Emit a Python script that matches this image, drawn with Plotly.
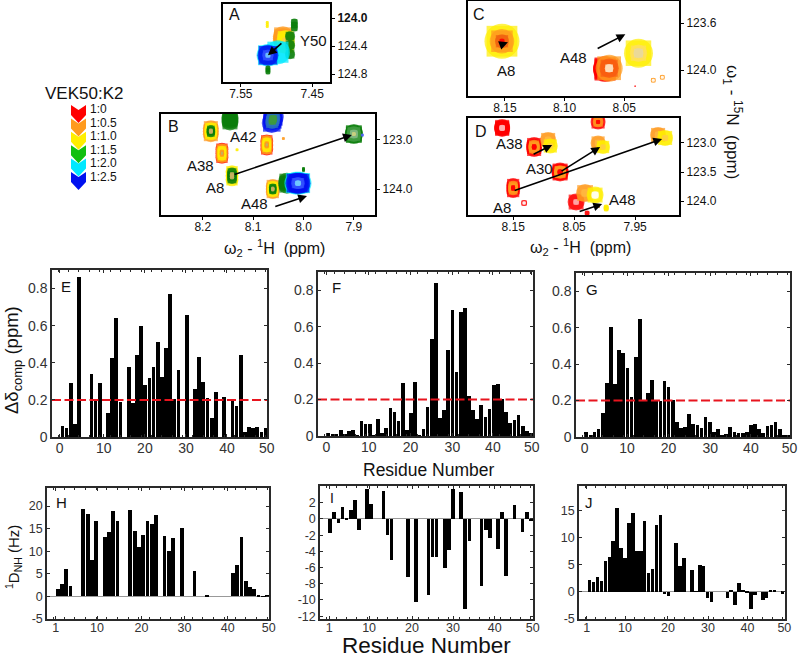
import plotly.graph_objects as go

# ---------- data ----------
residues = list(range(1, 51))
E_shift = [.06,.05,.29,.07,.86,0,0,.34,.205,.29,0,.13,.425,.64,.19,0,.375,.185,.44,.60,.28,.32,.375,.51,.325,.48,.77,.205,.36,0,.66,0,.26,.43,.295,.21,.10,.245,0,.215,0,.20,.165,.44,.025,.055,.05,.055,.025,.05]
F_shift = [.015,.012,.012,.035,.01,.025,.032,.002,.08,.065,.065,.003,.095,.015,.045,.155,.13,.08,.29,.035,.125,.295,.003,.04,.16,.535,.84,.10,.14,.47,.69,.35,.68,.70,.22,.14,.095,.17,.105,.15,.28,.285,.205,.13,.07,.09,.115,.055,.025,.015]
G_shift = [.03,.01,.03,.045,.13,.295,.605,.29,.48,.46,.38,.22,.44,.645,.195,.24,.315,.205,.20,.31,.275,.205,.085,.05,.055,.125,.07,.065,.05,.11,.08,.03,.045,.012,.018,.055,.025,.02,.02,.03,.065,.07,.045,.02,.06,.065,.08,.045,.01,.012]
H_rdc = [1.6,2.7,6.1,2.2,0,0,19.4,18.3,8,16.8,0,13.2,14.3,19,16.6,0,0,19.2,14.4,10.9,13.5,16.6,16,18,0,13.4,10.1,12.9,0,15.2,0,0,5.6,0,0,.4,0,0,0,0,0,5.1,7,13.2,3.5,2.1,1.7,.1,-.1,.1]
I_rdc = [-1.7,.8,-.5,1.5,-.1,1.1,2.4,-1.4,0,3.7,1.8,0,0,3.4,-2,-5.1,0,0,0,-7.2,0,-10.2,0,0,-9.4,-4.7,-4.7,0,-6,-3.8,3.7,0,3.3,-11.1,-2.7,0,0,-8.3,-1.3,-2.3,0,-3.7,.8,-7,0,1.7,0,-1.6,.8,-.3]
J_rdc = [2.2,1.8,2.7,2,5.8,6.5,9.4,15.5,8.1,6.3,12.7,14.6,7.5,7.6,13.2,3.5,4.2,12.3,14.2,-.4,-.8,0,9,4.8,6.3,0,4.1,.1,5,4.8,-1.1,-1.9,0,0,0,-1.2,.2,-2.5,1.6,.3,-.2,-3.1,-.5,0,-1.5,-1.2,.4,.4,0,-.3]
threshold = 0.2

ratio_labels = ["1:0","1:0.5","1:1.0","1:1.5","1:2.0","1:2.5"]

# peak positions (1H ppm, 15N ppm)
A_H = [7.491,7.487,7.481,7.498,7.512,7.475,7.513,7.512]
A_N = [124.286,124.34,124.386,124.486,124.529,124.10,124.09,124.74]
B_H = [8.184,8.146,8.061,8.162,8.073,8.142,7.900,8.061,8.033,8.011,8.0,8.132,8.04,7.883]
B_N = [122.82,122.59,122.59,123.27,123.10,123.73,122.88,124.0,123.88,123.88,123.6,123.2,122.97,122.9]
C_H = [8.1525,8.066,8.0626,8.038,8.0256,8.018,7.979,8.0408]
C_N = [123.753,123.99,123.983,123.855,124.085,124.06,123.44,124.136]
D_H = [8.168,8.1156,8.0926,8.089,8.0107,8.0107,8.0025,8.073,8.15,8.0467,8.032,8.0156,7.9123,7.9008,8.132,8.0287,7.9975,8.0107]
D_N = [122.741,123.069,122.948,123.052,122.638,123.0,123.069,123.5,123.776,124.017,123.862,123.897,122.862,122.914,124.034,124.207,124.12,124.086]

# arrows (start H, start N, end H, end N)
A_arrows = [(7.491,124.343,7.512,124.529)]
B_arrows = [(8.140,123.714,7.904,122.898),(8.059,124.367,7.993,124.143)]
C_arrows = [(8.154,123.787,8.1475,123.762),(8.0735,123.821,8.049,123.694)]
D_arrows = [(8.15,123.828,7.9057,122.931),(8.073,123.5,8.0074,123.069),(8.1189,123.207,8.086,123.034),(8.0434,124.19,8.004,124.052)]

# ---------- style ----------
W, H = 800, 658
RED, ORG, YEL, GRN, CYN, BLU = "#ff0000","#ff9a1e","#ffee00","#0a7d0a","#00e8ff","#0010f0"
KHK, LGN = "#c8b060","#7fb77f"
SCHEMES = {
    "yog": [(ORG,1),(YEL,.82),(GRN,.55),(KHK,.25)],
    "oyr": [(RED,1),(ORG,.93),(YEL,.72),(ORG,.35),(KHK,.15)],
    "gy":  [(YEL,1),(GRN,.78),(KHK,.35)],
    "g":   [(GRN,1),("#3f9a3f",.8),(LGN,.45),("#c8d080",.2)],
    "dg":  [(GRN,1)],
    "b":   [(CYN,1.08),(BLU,1),("#3050ff",.55),("#70c8ff",.25)],
    "bg":  [(BLU,1),("#2a70c0",.7),("#3f9a3f",.4)],
    "r":   [(RED,1),("#ffb0b0",.35)],
    "ro":  [(RED,1),(ORG,.72),(RED,.3)],
    "o":   [(ORG,1),("#ffb840",.6),(RED,.2)],
    "oo":  [(ORG,1),("#ffb840",.45)],
    "y":   [(YEL,1),("#ffd040",.4)],
    "yr":  [(YEL,1),(ORG,.7),("#f06010",.4),(RED,.15)],
    "ow":  [(ORG,1),("#f85a10",.72),("#ffe8c8",.32)],
    "yk":  [(YEL,1),("#ffe060",.6),("#e8d8a0",.35)],
    "ring":[(YEL,1),("#ffffff",.45)],
    "c":   [(CYN,1)],
    "s_y": [(YEL,1)], "s_o": [(ORG,1)], "s_r": [(RED,1)], "s_g": [(GRN,1)], "s_k": [("#a06010",1)], "s_b": [("#5060ff",1)],
    "ro_o":[(ORG,1),("#ffffff",.6)],
    "ro_r":[(RED,1),("#ffffff",.6)],
}
# per peak: scheme, size px, half-elongation dx px, dy px
A_style = [("o",20,0,2),("y",18,0,3),("dg",10,0,9),("c",24,0,0),("b",21,0,0),("s_g",7,0,3),("s_y",3,0,2),("s_g",5,0,2)]
B_style = [("yog",16,0,3),("dg",17,0,2),("bg",20,1,3),("oyr",13,0,4),("oyr",13,0,4),("gy",13,0,4),("g",18,0,1),("yog",14,0,3),("dg",17,0,2),("b",21,2,0),("s_g",3,0,1),("s_y",3,0,0),("s_o",3,0,0),("s_b",3,0,0)]
C_style = [("yr",35,0,0),("s_r",24,0,1),("ow",27,0,0),("yk",29,0,0),("ro_o",5,0,0),("ro_o",5,0,0),("s_r",1.5,0,0),("s_r",1.5,0,0)]
D_style = [("r",16,0,1),("ro",16,0,2),("oo",16,0,0),("y",15,0,0),("ro",15,0,0),("oo",15,0,0),("y",14,0,0),("ro",17,0,1),("ro",14,0,3),("r",17,0,0),("oo",18,0,0),("ring",17,0,0),("oo",16,0,0),("y",16,0,0),("ro_r",6,0,0),("s_r",5,0,0),("s_y",5,0,1),("s_k",4,0,0)]

panels = {
    # px box (l,t,r,b), x range, y range
    "A": ((223,4,330,82),(7.575,7.425),(124.91,123.80)),
    "B": ((161,114,375,215),(8.283,7.858),(124.53,122.47)),
    "C": ((468,1,679,96),(8.181,8.004),(124.22,123.41)),
    "D": ((468,118,679,215),(8.224,7.878),(124.24,122.57)),
    "E": ((52,270,267,437),(-1.5,50.35),(0,0.9)),
    "F": ((318,272,533,436),(-1.5,50.5),(0,0.9)),
    "G": ((576,273,790,437),(-1.5,50.5),(0,0.9)),
    "H": ((47,488,269,619),(-1.5,50.45),(-5,24)),
    "I": ((320,486,533,619),(-1.5,50.55),(-12.35,4.07)),
    "J": ((579,486,785,619),(-1.7,50.66),(-5,19.6)),
}
ticks = {
    "A": ([7.55,7.45],["7.55","7.45"],[124.0,124.4,124.8],["<b>124.0</b>","124.4","124.8"]),
    "B": ([8.2,8.1,8.0,7.9],["8.2","8.1","8.0","7.9"],[123,124],["123.0","124.0"]),
    "C": ([8.15,8.10,8.05],["8.15","8.10","8.05"],[123.6,124.0],["123.6","124.0"]),
    "D": ([8.15,8.05,7.95],["8.15","8.05","7.95"],[123.0,123.5,124.0],["123.0","123.5","124.0"]),
    "E": ([.35,11.0,20.9,30.8,40.7,50.3],["0","10","20","30","40","50"],[0,.2,.4,.6,.8],["0","0.2","0.4","0.6","0.8"]),
    "F": ([.5,10.8,20.9,31,40.8,50.2],["0","10","20","30","40","50"],[0,.2,.4,.6,.8],["0","0.2","0.4","0.6","0.8"]),
    "G": ([.6,10.9,21,31.1,41,50.4],["0","10","20","30","40","50"],[0,.2,.4,.6,.8],["0","0.2","0.4","0.6","0.8"]),
    "H": ([.53,10.2,20.6,30.65,40.8,50.4],["1","10","20","30","40","50"],[-5,0,5,10,15,20],["-5","0","5","10","15","20"]),
    "I": ([.76,10.5,21,31,41.2,50.5],["1","10","20","30","40","50"],[-12,-10,-8,-6,-4,-2,0,2],["-12","-10","-8","-6","-4","-2","0","2"]),
    "J": ([.24,10,20.9,31.1,41.1,50.5],["1","10","20","30","40","50"],[-5,0,5,10,15],["-5","0","5","10","15"]),
}
FONT = "Liberation Sans"
fig = go.Figure()
layout = {}
for i,(name,(box,xr,yr)) in enumerate(panels.items(),1):
    l,t,r,b = box
    top_row = name in "ABCD"
    tv = ticks[name]
    fs = 12 if top_row else (14 if name in "EFG" else 12.5)
    lc = "#000" if top_row else "#2a2a2a"
    lw = 2 if top_row else 1.5
    tc = "#111" if top_row else "#333"
    ax = dict(showgrid=False,showline=True,mirror="ticks" if not top_row else True,linecolor=lc,linewidth=lw,automargin=False,
              tickcolor=lc,tickfont=dict(family=FONT,size=fs,color=tc),tickmode="array",fixedrange=True)
    x = dict(ax,domain=[l/W,r/W],range=list(xr),tickvals=tv[0],ticktext=tv[1],anchor=f"y{i}",
             ticks="outside" if top_row else "inside",ticklen=3,zeroline=False,
             ticklabelstandoff=-4 if name in "HIJ" else -3)
    if not top_row:
        x["minor"]=dict(ticks="inside",dtick=2.5,ticklen=2,tickcolor=lc)
    y = dict(ax,domain=[1-b/H,1-t/H],range=list(yr),tickvals=tv[2],ticktext=tv[3],anchor=f"x{i}",
             ticks="outside" if top_row else "inside",ticklen=3,
             zeroline=name in "HIJ",zerolinecolor="#999",zerolinewidth=1)
    if top_row:
        y["side"]="right"
    layout[f"xaxis{i}"]=x
    layout[f"yaxis{i}"]=y

def peak_trace(name, idx, hs, ns, styles):
    box,xr,yr = panels[name]
    sx = (box[2]-box[0])/(xr[1]-xr[0]); sy = (box[3]-box[1])/(yr[1]-yr[0])
    X,Y,S,C,M=[],[],[],[],[]
    for h,n,(sch,size,dx,dy) in zip(hs,ns,styles):
        for col,scale in SCHEMES[sch]:
            d = size*scale
            for sgn in ((-1,0,1) if (dx or dy) else (0,)):
                for sym,f in (("circle",1.0),("square",.88)):
                    X.append(h+sgn*scale*dx/sx); Y.append(n+sgn*scale*dy/sy)
                    S.append(max(d*f,1)); C.append(col); M.append(sym)
    fig.add_trace(go.Scatter(x=X,y=Y,mode="markers",xaxis=f"x{idx}",yaxis=f"y{idx}",showlegend=False,hoverinfo="skip",
        marker=dict(size=S,color=C,symbol=M,line=dict(width=0))))

peak_trace("A",1,A_H,A_N,A_style)
peak_trace("B",2,B_H,B_N,B_style)
peak_trace("C",3,C_H,C_N,C_style)
peak_trace("D",4,D_H,D_N,D_style)

for idx,vals in zip((5,6,7,8,9,10),(E_shift,F_shift,G_shift,H_rdc,I_rdc,J_rdc)):
    fig.add_trace(go.Bar(x=residues,y=vals,width=.9,xaxis=f"x{idx}",yaxis=f"y{idx}",showlegend=False,
                         marker=dict(color="#000",line=dict(width=0)),hoverinfo="skip"))
for idx,name in zip((5,6,7),"EFG"):
    xr = panels[name][1]
    fig.add_trace(go.Scatter(x=list(xr),y=[threshold,threshold],mode="lines",xaxis=f"x{idx}",yaxis=f"y{idx}",showlegend=False,
        line=dict(color="#e8141e",width=2,dash="9px,3.5px"),hoverinfo="skip"))

anns=[]
def px_text(txt,x,y,size,angle=0,color="#111",xanchor="center"):
    anns.append(dict(text=txt,x=x/W,y=1-y/H,xref="paper",yref="paper",showarrow=False,xanchor=xanchor,yanchor="middle",
                     borderpad=0,textangle=angle,font=dict(family=FONT,size=size,color=color)))
for idx,arrows in zip((1,2,3,4),(A_arrows,B_arrows,C_arrows,D_arrows)):
    for (x0,y0,x1,y1) in arrows:
        anns.append(dict(x=x1,y=y1,ax=x0,ay=y0,xref=f"x{idx}",yref=f"y{idx}",axref=f"x{idx}",ayref=f"y{idx}",
                         showarrow=True,arrowhead=2,arrowsize=1.1,arrowwidth=1.6,arrowcolor="#000",text=""))
for t,x,y,s in [("A",234,15,16),("B",173,127,16),("C",479,15,16),("D",481,132,16),
                ("E",66,286,15),("F",336,287,15),("G",592,289,15),("H",61,503,15),("I",332,498,14),("J",589,502,15),
                ("Y50",313,40,15),("A42",243,136,15),("A38",200,165,15),("A8",215,187,15),("A48",254,203,15),
                ("A8",506,70,15),("A48",573,58,15),("A38",510,143,15),("A30",539,169,15),("A8",502,207,15),("A48",622,199,15)]:
    px_text(t,x,y,s)
wlabel = "ω<sub>2</sub> - <sup>1</sup>H  (ppm)"
px_text(wlabel,274,248,16); px_text(wlabel,580,247,16)
px_text("ω<sub>1</sub> - <sup>15</sup>N  (ppm)",733,122,17,angle=90)
px_text("Δδ<sub>comp</sub> (ppm)",13,360,18.5,angle=-90)
px_text("<sup>1</sup>D<sub>NH</sub> (Hz)",13,557,15,angle=-90)
px_text("Residue Number",428,470,17.5)
px_text("Residue Number",427,645,22.5)
px_text("VEK50:K2",84,93,17)

# titration legend: chevrons stacked, first on top
chev = [RED,ORG,YEL,"#10c010",CYN,BLU]
shapes=[]
for i in range(5,-1,-1):
    y0 = 105+13.4*i
    pts = [(71,y0),(78.5,y0+5),(86,y0),(86,y0+10),(78.5,y0+18),(71,y0+10)]
    path = "M "+" L ".join(f"{px/W:.5f},{1-py/H:.5f}" for px,py in pts)+" Z"
    shapes.append(dict(type="path",path=path,xref="paper",yref="paper",fillcolor=chev[i],line=dict(width=0)))
for lab,y in zip(ratio_labels,(109,122.5,136,149.5,163,176.5)):
    px_text(lab,89,y,12,xanchor="left")

layout.update(width=W,height=H,margin=dict(l=0,r=0,t=0,b=0),paper_bgcolor="white",plot_bgcolor="white",
              showlegend=False,annotations=anns,shapes=shapes,bargap=0)
fig.update_layout(**layout)
fig.write_html("out.html",config={"displayModeBar":False},post_script="document.body.style.margin='0';document.documentElement.style.overflow='hidden';")
